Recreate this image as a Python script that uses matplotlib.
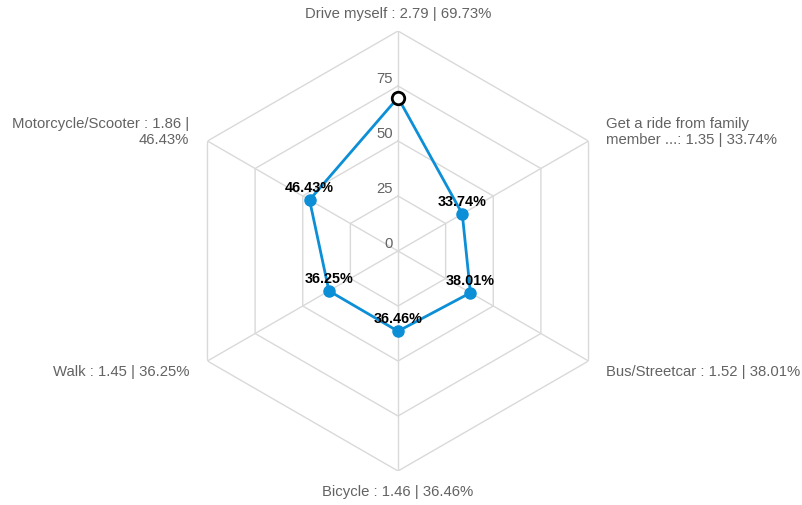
import numpy as np
import matplotlib.pyplot as plt

plt.rcParams['font.family'] = ['Liberation Sans', 'DejaVu Sans']

# travel modes, mean score and share
modes = ['Drive myself', 'Get a ride from family member ...', 'Bus/Streetcar',
         'Bicycle', 'Walk', 'Motorcycle/Scooter']
scores = [2.79, 1.35, 1.52, 1.46, 1.45, 1.86]
pct = [69.73, 33.74, 38.01, 36.46, 36.25, 46.43]
axis_labels = ['Drive myself : 2.79 | 69.73%',
               'Get a ride from family\nmember ...: 1.35 | 33.74%',
               'Bus/Streetcar : 1.52 | 38.01%',
               'Bicycle : 1.46 | 36.46%',
               'Walk : 1.45 | 36.25%',
               'Motorcycle/Scooter : 1.86 |\n46.43%']
rings = [25, 50, 75, 100]
ring_labels = [0, 25, 50, 75]

grid_col = '#d9d9d9'
text_col = '#636363'
line_col = '#0c8fd6'
fs = 10.7

n = len(modes)
theta = np.arange(n) * 2 * np.pi / n
theta_c = np.append(theta, theta[0])

fig = plt.figure(figsize=(8.02, 5.06), dpi=100)
W, H = 802, 506
cx, cy, R = 398, 252, 220
ax = fig.add_axes([(cx - R) / W, (H - cy - R) / H, 2 * R / W, 2 * R / H],
                  projection='polar')
ax.set_theta_zero_location('N')
ax.set_theta_direction(-1)
ax.set_ylim(0, 100)
ax.grid(False)
ax.set_xticks([])
ax.set_yticks([])
ax.spines['polar'].set_visible(False)
ax.patch.set_visible(False)

# hexagon rings and spokes
for r in rings:
    ax.plot(theta_c, [r] * (n + 1), color=grid_col, lw=1, zorder=1)
for t in theta:
    ax.plot([t, t], [0, 100], color=grid_col, lw=1, zorder=1)

# ring value labels on the top spoke
for v in ring_labels:
    ax.annotate(str(v), xy=(0, v), xytext=(-5, 1), textcoords='offset pixels',
                ha='right', va='bottom', fontsize=fs, color=text_col)

# series
vals_c = pct + [pct[0]]
ax.plot(theta_c, vals_c, color=line_col, lw=2, zorder=3)
ax.plot(theta[1:], pct[1:], 'o', color=line_col, ms=8, zorder=4)
ax.plot(theta[0], pct[0], 'o', mfc='white', mec='black', mew=2, ms=9, zorder=5)

for t, v in zip(theta[1:], pct[1:]):
    ax.annotate(f'{v:.2f}%', xy=(t, v), xytext=(0, 13), textcoords='offset pixels',
                ha='center', va='center', fontsize=10.4, fontweight='bold',
                color='black', zorder=6)

# category labels outside the outer ring
offsets = [(0, 18), (17, 10), (17, -10), (0, -20), (-18, -10), (-18, 10)]
aligns = ['center', 'left', 'left', 'center', 'right', 'right']
for t, lab, off, ha in zip(theta, axis_labels, offsets, aligns):
    ax.annotate(lab, xy=(t, 100), xytext=off, textcoords='offset pixels',
                ha=ha, va='center', ma=ha, fontsize=fs, color=text_col,
                linespacing=1.2, annotation_clip=False)

fig.savefig('out.png', dpi=100)
